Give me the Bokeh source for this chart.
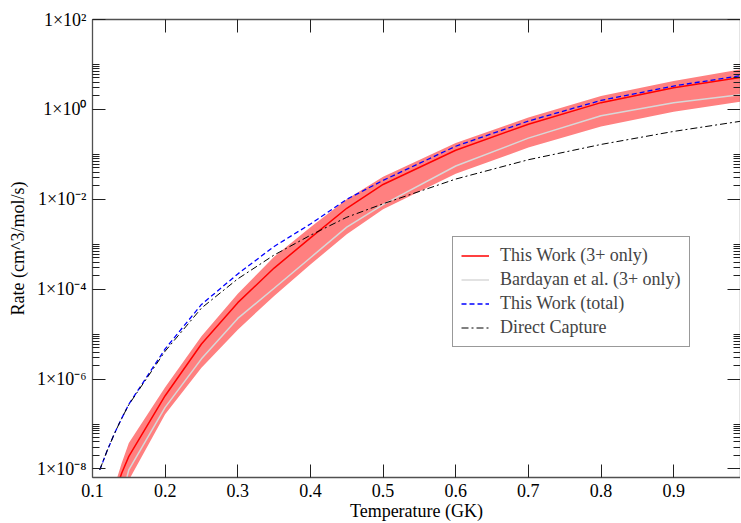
from bokeh.plotting import figure
from bokeh.models import (LogAxis, LinearAxis, FixedTicker, Range1d, Legend,
                          LegendItem, ColumnDataSource, CustomJSTickFormatter)
from bokeh.embed import file_html
from bokeh.resources import INLINE

nan = float("nan")

# ---- data (log10 of rate) ----
temperature_gk = [0.11, 0.12, 0.13, 0.14, 0.15, 0.2, 0.25, 0.3, 0.35, 0.4,
                  0.45, 0.5, 0.6, 0.7, 0.8, 0.9, 1.0]
this_work_3plus_log10 = [nan, nan, -8.6, -8.1, -7.72, -6.37, -5.22, -4.3, -3.53, -2.86,
                         -2.2, -1.67, -0.91, -0.33, 0.15, 0.48, 0.73]
bardayan_3plus_log10 = [nan, nan, nan, -8.65, -8.02, -6.63, -5.55, -4.65, -3.98, -3.3,
                        -2.62, -2.12, -1.26, -0.64, -0.14, 0.15, 0.34]
this_work_total_log10 = [-8.02, -7.6, -7.22, -6.88, -6.56, -5.33, -4.34, -3.66, -3.05, -2.55,
                         -2.0, -1.58, -0.82, -0.26, 0.2, 0.52, 0.77]
direct_capture_log10 = [-8.02, -7.6, -7.22, -6.88, -6.57, -5.38, -4.42, -3.77, -3.24, -2.8,
                        -2.4, -2.1, -1.55, -1.12, -0.78, -0.49, -0.245]

band_temperature_gk = [0.13, 0.14, 0.15, 0.2, 0.25, 0.3, 0.35, 0.4, 0.45, 0.5,
                       0.6, 0.7, 0.8, 0.9, 1.0]
band_upper_log10 = [-8.4, -7.88, -7.42, -6.18, -5.05, -4.1, -3.28, -2.62, -2.0, -1.5,
                    -0.75, -0.18, 0.3, 0.63, 0.91]
band_lower_log10 = [-9.2, -8.7, -8.25, -6.78, -5.75, -4.9, -4.15, -3.45, -2.78, -2.22,
                    -1.43, -0.85, -0.38, -0.05, 0.19]

x_ticks = [0.1, 0.2, 0.3, 0.4, 0.5, 0.6, 0.7, 0.8, 0.9]
y_major_exponents = [-8, -6, -4, -2, 0, 2]
y_tick_labels = ["1×10⁻⁸", "1×10⁻⁶", "1×10⁻⁴", "1×10⁻²", "1×10⁰", "1×10²"]

legend_labels = ["This Work (3+ only)", "Bardayan et al. (3+ only)",
                 "This Work (total)", "Direct Capture"]

FONT = "Liberation Serif"
FS = "18px"

def rates(exps):
    return [10 ** e if e == e else nan for e in exps]

src = ColumnDataSource(dict(
    t=temperature_gk,
    red=rates(this_work_3plus_log10),
    gray=rates(bardayan_3plus_log10),
    blue=rates(this_work_total_log10),
    dc=rates(direct_capture_log10),
))
band = ColumnDataSource(dict(
    t=band_temperature_gk,
    lo=rates(band_lower_log10),
    hi=rates(band_upper_log10),
))

y_majors = [10.0 ** e for e in y_major_exponents]
y_minors = [k * 10.0 ** e for e in y_major_exponents[:-1] for k in range(2, 11)]

p = figure(frame_width=648, frame_height=458,
           x_range=Range1d(0.1, 0.992), y_range=Range1d(10 ** -8.19, 1e2),
           y_axis_type="log", output_backend="svg", toolbar_location=None,
           min_border_left=92, min_border_right=0, min_border_top=19,
           min_border_bottom=46, x_axis_label="Temperature (GK)",
           y_axis_label="Rate (cm^3/mol/s)")
p.xgrid.visible = False
p.ygrid.visible = False
p.outline_line_color = None
p.background_fill_color = "white"

p.varea(x="t", y1="lo", y2="hi", source=band, fill_color="#ff8080", fill_alpha=1.0)
r_red = p.line("t", "red", source=src, line_color="#ff0000", line_width=1.5)
r_gray = p.line("t", "gray", source=src, line_color="#d8d8d8", line_width=1.5)
r_blue = p.line("t", "blue", source=src, line_color="#0000ff", line_width=1.3,
                line_dash="5 3")
r_dc = p.line("t", "dc", source=src, line_color="#000000", line_width=1.0,
              line_dash="7 3 2 3")

xt = FixedTicker(ticks=x_ticks, minor_ticks=[])
yt = FixedTicker(ticks=y_majors, minor_ticks=y_minors)

def style(ax):
    ax.axis_line_color = "#505050"
    ax.axis_line_width = 1.3
    ax.major_tick_line_color = "#202020"
    ax.minor_tick_line_color = "#202020"
    ax.major_tick_in = 13
    ax.major_tick_out = 0
    ax.minor_tick_in = 7
    ax.minor_tick_out = 0
    ax.major_label_text_font = FONT
    ax.major_label_text_font_size = FS
    ax.major_label_text_color = "black"
    ax.axis_label_text_font = FONT
    ax.axis_label_text_font_size = FS
    ax.axis_label_text_font_style = "normal"
    ax.axis_label_text_color = "black"

xa = p.xaxis[0]
xa.ticker = xt
style(xa)
xa.major_label_standoff = 6
xa.axis_label_standoff = 1

ya = p.yaxis[0]
ya.ticker = yt
style(ya)
ya.major_label_overrides = {m: lab for m, lab in zip(y_majors, y_tick_labels)}
ya.major_label_standoff = 6
ya.axis_label_standoff = 6

blank = CustomJSTickFormatter(code="return ''")
top = LinearAxis(ticker=xt, formatter=blank)
style(top)
top.major_label_standoff = 0
p.add_layout(top, "above")
right = LogAxis(ticker=yt, formatter=blank)
style(right)
right.major_label_standoff = 0
p.add_layout(right, "right")

legend = Legend(items=[LegendItem(label=legend_labels[0], renderers=[r_red]),
                       LegendItem(label=legend_labels[1], renderers=[r_gray]),
                       LegendItem(label=legend_labels[2], renderers=[r_blue]),
                       LegendItem(label=legend_labels[3], renderers=[r_dc])],
                location=(360, 130))
legend.label_text_font = FONT
legend.label_text_font_size = FS
legend.glyph_width = 28
legend.glyph_height = 19
legend.label_height = 19
legend.label_standoff = 11
legend.padding = 8
legend.spacing = 3
legend.margin = 0
legend.border_line_color = "#333333"
legend.border_line_width = 1.3
legend.background_fill_color = "white"
legend.background_fill_alpha = 1.0
p.add_layout(legend, "center")

open("out.html", "w").write(file_html(p, INLINE))
